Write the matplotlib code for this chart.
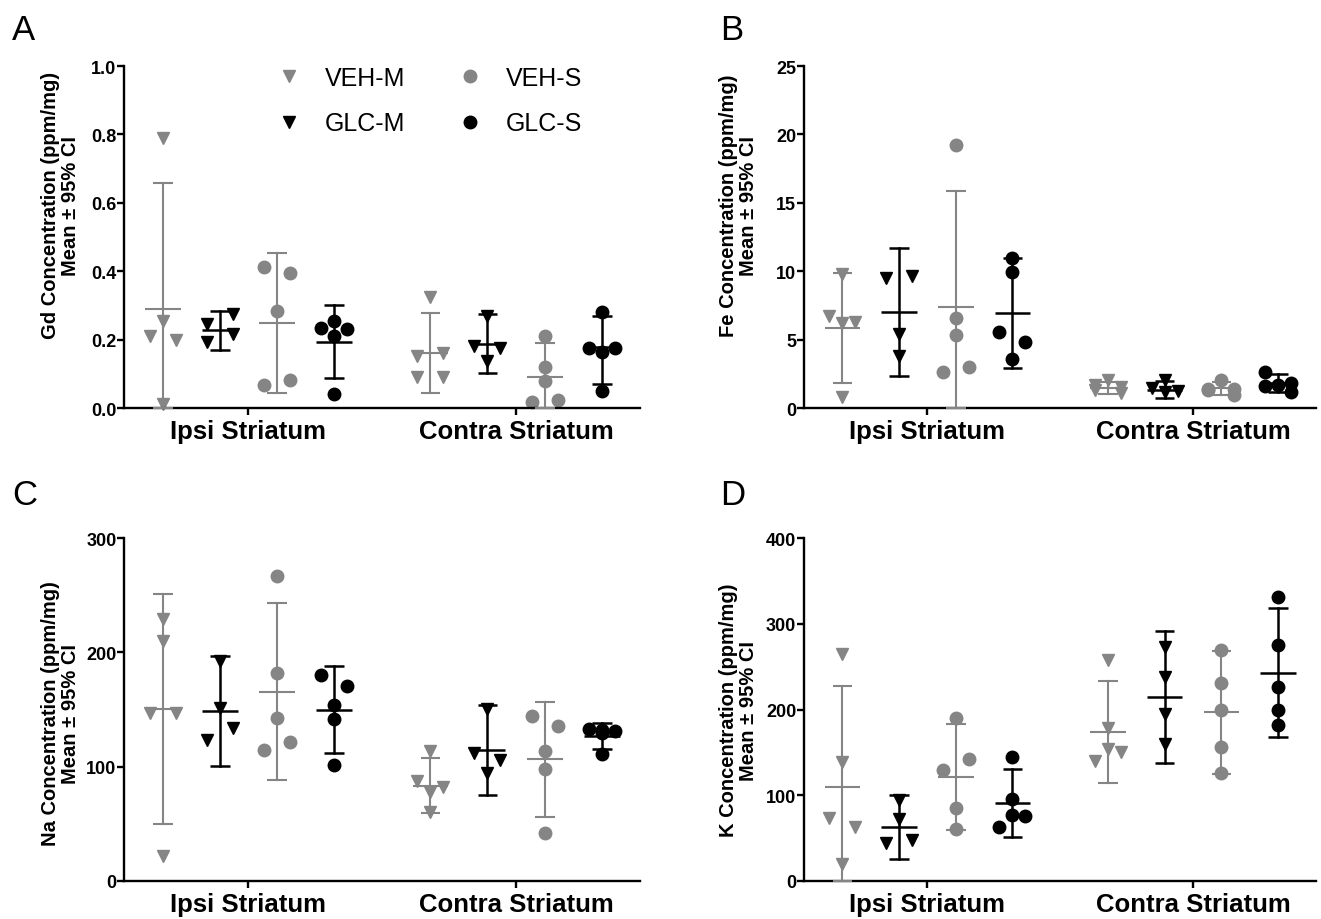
import numpy as np
import matplotlib
matplotlib.use("Agg")
import matplotlib.pyplot as plt
from matplotlib.lines import Line2D

plt.rcParams["font.family"] = ["Liberation Sans", "DejaVu Sans"]

groups = ["VEH-M", "GLC-M", "VEH-S", "GLC-S"]
regions = ["Ipsi Striatum", "Contra Striatum"]

# order of the 8 columns: ipsi VEH-M, GLC-M, VEH-S, GLC-S, then contra in the same order
gd_points = [[0.79, 0.255, 0.211, 0.20, 0.012],
             [0.246, 0.275, 0.192, 0.216],
             [0.411, 0.395, 0.283, 0.067, 0.082],
             [0.255, 0.233, 0.231, 0.21, 0.041],
             [0.324, 0.153, 0.161, 0.09, 0.09],
             [0.27, 0.182, 0.177, 0.138],
             [0.211, 0.119, 0.08, 0.017, 0.023],
             [0.28, 0.163, 0.177, 0.177, 0.051]]
gd_mean = [0.291, 0.228, 0.249, 0.194, 0.161, 0.188, 0.09, 0.178]
gd_lo = [0.0, 0.171, 0.043, 0.087, 0.043, 0.102, 0.0, 0.07]
gd_hi = [0.657, 0.285, 0.453, 0.301, 0.278, 0.275, 0.189, 0.268]

fe_points = [[9.8, 6.23, 6.76, 6.27, 0.8],
             [9.48, 9.68, 5.42, 3.84],
             [19.2, 6.59, 5.37, 2.67, 2.99],
             [11.0, 9.97, 5.54, 4.82, 3.6],
             [2.05, 1.65, 1.55, 1.35, 1.1],
             [2.05, 1.5, 1.25, 1.2],
             [2.05, 1.4, 1.4, 1.35, 0.95],
             [2.65, 1.85, 1.65, 1.6, 1.15]]
fe_mean = [5.84, 7.0, 7.42, 6.96, 1.48, 1.35, 1.43, 1.82]
fe_lo = [1.82, 2.33, 0.0, 2.92, 1.05, 0.75, 0.92, 1.15]
fe_hi = [9.87, 11.7, 15.86, 11.0, 1.9, 1.95, 1.9, 2.52]

na_points = [[229, 210, 147, 147, 22],
             [192.7, 151, 123.5, 133.4],
             [267, 181.6, 143, 114.5, 121.8],
             [180.4, 170.8, 154, 141.6, 101.6],
             [113.9, 77.4, 87.6, 81.8, 59.9],
             [150.4, 111.5, 106, 94],
             [144.5, 135.8, 113.9, 97.8, 41.5],
             [132, 133, 131, 129, 111]]
na_mean = [150.4, 149, 165.5, 149.5, 83.2, 114.7, 106.6, 127]
na_lo = [50, 100.7, 88.2, 111.5, 59.3, 75.3, 56, 115.3]
na_hi = [250.8, 197, 243, 187.7, 107.2, 153.9, 157, 138]

k_points = [[264.8, 138.3, 72.8, 62.3, 19.5],
            [94.3, 72, 44, 47.5],
            [189.7, 129, 142, 84.5, 60.4],
            [144.9, 95.4, 76.7, 62.3, 75.2],
            [258.2, 178, 153.8, 140, 150.7],
            [272.6, 237.6, 194.7, 159.7],
            [269.9, 231, 199.4, 155.8, 125.8],
            [331, 275.4, 225.9, 199.4, 182.3]]
k_mean = [109, 63.1, 121.5, 90.7, 174.1, 215, 196.7, 242.7]
k_lo = [0, 25.3, 59.2, 50.6, 113.7, 137.1, 124.6, 168.3]
k_hi = [227.8, 100.5, 183, 130.5, 233.7, 292.1, 268, 318.2]

GRAY = "#858585"
colors = [GRAY, "black", GRAY, "black"]
markers = ["v", "v", "o", "o"]
offsets = [-0.32, -0.107, 0.107, 0.32]


def swarm(ax, vals, x0, d_px=13.0, t_px=12.5):
    # spread points that sit at almost the same height, like a column scatter
    vals = np.asarray(vals, float)
    ypx = ax.transData.transform(np.column_stack([np.full(len(vals), x0), vals]))[:, 1]
    order = sorted(range(len(vals)), key=lambda i: (-vals[i], i))
    rows = []
    for i in order:
        if rows and len(rows[-1]) < 3 and abs(ypx[rows[-1][0]] - ypx[i]) < t_px:
            rows[-1].append(i)
        else:
            rows.append([i])
    slots = {1: [0], 2: [-1, 1], 3: [0, -1, 1]}
    px_x = ax.transData.transform((1, 0))[0] - ax.transData.transform((0, 0))[0]
    off = np.zeros(len(vals))
    for r in rows:
        for i, s in zip(sorted(r), slots[len(r)]):
            off[i] = s * d_px / px_x
    return off


def panel(ax, points, mean, lo, hi, ymax, yticks, fmt, ylabel, lab_xy):
    ax.set_xlim(-0.465, 1.463)
    ax.set_ylim(0, ymax)
    for j in range(8):
        g = j % 4
        x0 = (j // 4) + offsets[g]
        vals = points[j]
        xs = x0 + swarm(ax, vals, x0)
        ax.plot(xs, vals, linestyle="none", marker=markers[g], ms=9,
                color=colors[g], mec=colors[g], clip_on=False, zorder=2)
        lw = 1.5 if colors[g] == GRAY else 1.8
        ax.plot([x0, x0], [lo[j], hi[j]], color=colors[g], lw=lw, zorder=3, clip_on=False)
        for yv, hw in [(lo[j], 0.037), (hi[j], 0.037), (mean[j], 0.067)]:
            ax.plot([x0 - hw, x0 + hw], [yv, yv], color=colors[g], lw=lw,
                    zorder=3, clip_on=False, solid_capstyle="butt")
    for s in ["top", "right"]:
        ax.spines[s].set_visible(False)
    for s in ["left", "bottom"]:
        ax.spines[s].set_linewidth(1.7)
    ax.set_yticks(yticks)
    ax.set_yticklabels([fmt.format(v) for v in yticks], fontsize=13, fontweight="bold")
    ax.set_xticks([0, 1])
    ax.set_xticklabels(regions, fontsize=18.5, fontweight="bold")
    ax.tick_params(axis="y", direction="out", length=5, width=1.7, pad=0.5)
    ax.tick_params(axis="x", direction="out", length=5, width=1.7, pad=3)
    ax.set_ylabel(ylabel + "\nMean ± 95% CI", fontsize=14.5, fontweight="bold", linespacing=1.05)
    ax.yaxis.set_label_coords(lab_xy[0], lab_xy[1])


fig = plt.figure(figsize=(13.21, 9.2), dpi=100)
axA = fig.add_axes([0.0939, 0.5554, 0.3906, 0.3717])
axB = fig.add_axes([0.6086, 0.5554, 0.3876, 0.3717])
axC = fig.add_axes([0.0939, 0.0416, 0.3906, 0.3722])
axD = fig.add_axes([0.6086, 0.0416, 0.3876, 0.3722])

panel(axA, gd_points, gd_mean, gd_lo, gd_hi, 1.0, [0, 0.2, 0.4, 0.6, 0.8, 1.0], "{:.1f}",
      "Gd Concentration (ppm/mg)", (-0.086, 0.594))
panel(axB, fe_points, fe_mean, fe_lo, fe_hi, 25, [0, 5, 10, 15, 20, 25], "{:.0f}",
      "Fe Concentration (ppm/mg)", (-0.09, 0.594))
panel(axC, na_points, na_mean, na_lo, na_hi, 300, [0, 100, 200, 300], "{:.0f}",
      "Na Concentration (ppm/mg)", (-0.086, 0.49))
panel(axD, k_points, k_mean, k_lo, k_hi, 400, [0, 100, 200, 300, 400], "{:.0f}",
      "K Concentration (ppm/mg)", (-0.09, 0.5))

handles = [Line2D([], [], linestyle="none", marker=markers[g], ms=9, color=colors[g])
           for g in range(4)]
fig.legend(handles, groups, ncol=2, loc="upper left", bbox_to_anchor=(0.2093, 0.927),
           bbox_transform=fig.transFigure, frameon=False, fontsize=18, borderpad=0,
           borderaxespad=0, handlelength=1.0, handletextpad=0.95, columnspacing=2.06,
           labelspacing=0.85)

for letter, x, y in [("A", 12, 40), ("B", 720, 40), ("C", 12, 505), ("D", 720, 505)]:
    fig.text(x / 1321, 1 - y / 920, letter, fontsize=25, va="baseline", ha="left")

fig.savefig("out.png", dpi=100)
